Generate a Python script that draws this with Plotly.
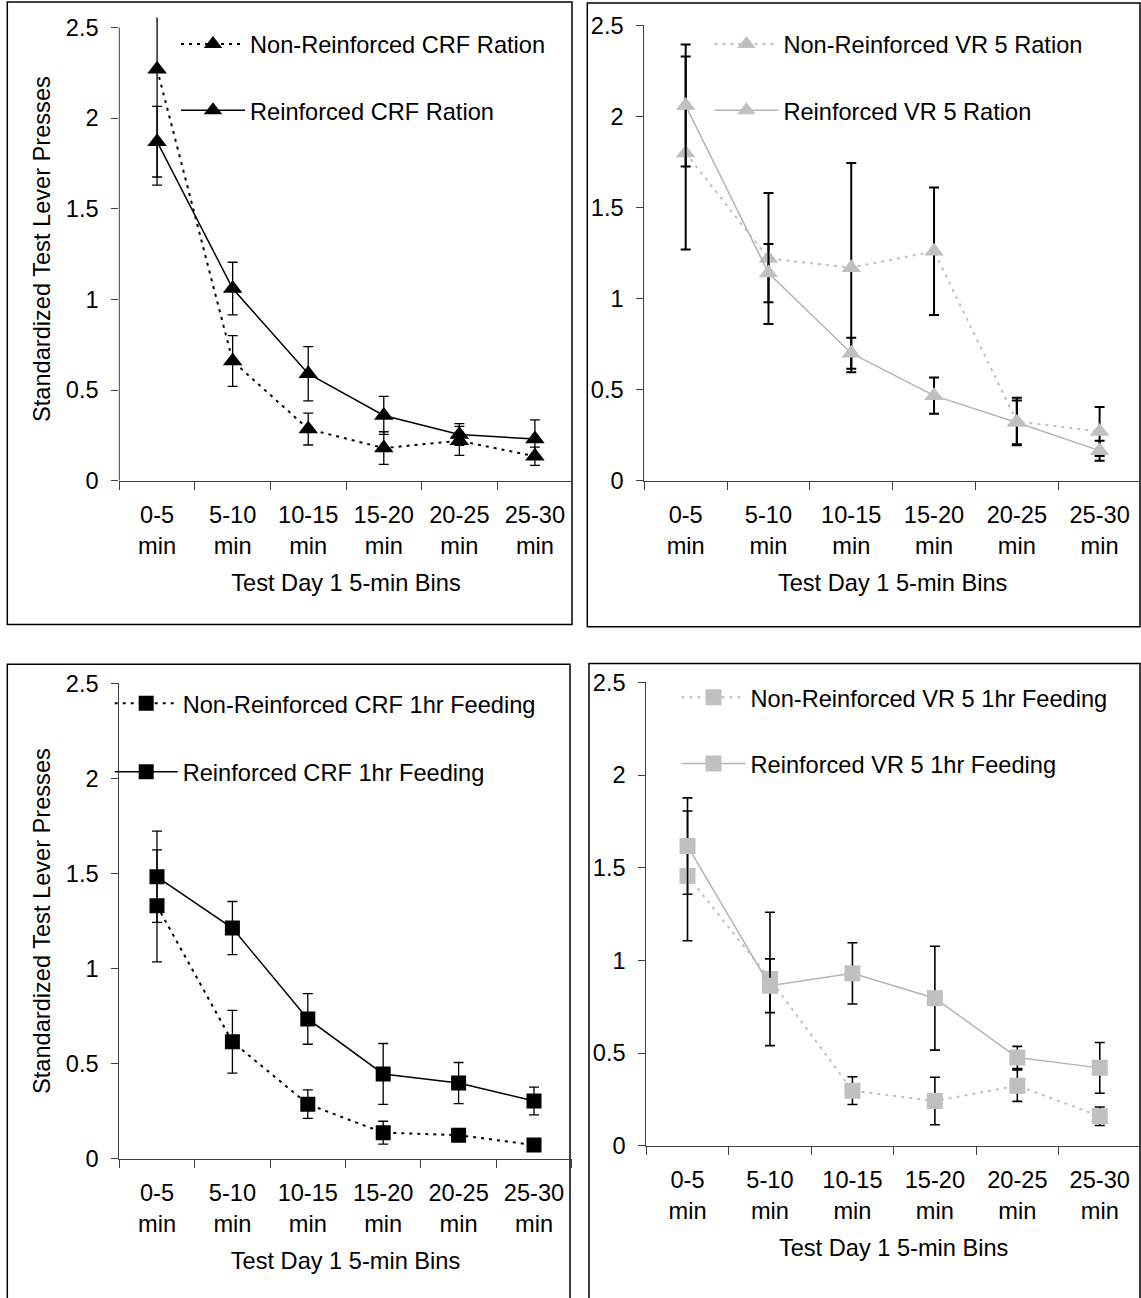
import plotly.graph_objects as go

# ---------------- data ----------------
bins = ["0-5<br>min", "5-10<br>min", "10-15<br>min", "15-20<br>min", "20-25<br>min", "25-30<br>min"]
y_ticks = [0, 0.5, 1, 1.5, 2, 2.5]

crf_ration_nonreinf = [2.27, 0.66, 0.285, 0.18, 0.22, 0.135]
crf_ration_nonreinf_err = [0.64, 0.14, 0.088, 0.09, 0.08, 0.05]
crf_ration_reinf = [1.87, 1.06, 0.59, 0.36, 0.255, 0.23]
crf_ration_reinf_err = [0.195, 0.145, 0.15, 0.105, 0.06, 0.105]

vr5_ration_nonreinf = [1.80, 1.22, 1.17, 1.26, 0.325, 0.27]
vr5_ration_nonreinf_err = [0.53, 0.36, 0.575, 0.35, 0.13, 0.135]
vr5_ration_reinf = [2.06, 1.14, 0.70, 0.467, 0.32, 0.165]
vr5_ration_reinf_err = [0.335, 0.16, 0.085, 0.10, 0.12, 0.055]

crf_feed_nonreinf = [1.33, 0.615, 0.287, 0.137, 0.124, 0.072]
crf_feed_nonreinf_err = [0.295, 0.165, 0.075, 0.06, 0.02, 0.01]
crf_feed_reinf = [1.483, 1.213, 0.735, 0.446, 0.398, 0.304]
crf_feed_reinf_err = [0.24, 0.14, 0.133, 0.16, 0.108, 0.073]

vr5_feed_nonreinf = [1.456, 0.90, 0.297, 0.241, 0.324, 0.159]
vr5_feed_nonreinf_err = [0.35, 0.36, 0.075, 0.128, 0.085, 0.05]
vr5_feed_reinf = [1.617, 0.863, 0.930, 0.796, 0.476, 0.42]
vr5_feed_reinf_err = [0.26, 0.145, 0.165, 0.28, 0.06, 0.137]

x_title = "Test Day 1 5-min Bins"
y_title = "Standardized Test Lever Presses"

# ---------------- styling / layout helpers ----------------
W, H = 1141, 1298
FONT = "Arial, 'Liberation Sans', Helvetica, sans-serif"
FS = 23.6
AXIS_COLOR = "#404040"
BLACK = "#000000"
GRAY_M = "#c0c0c0"
GRAY_L = "#b4b4b4"
DOT = "3px,5px"


def px_x(p):
    return p / W


def px_y(p):
    return 1 - p / H


fig = go.Figure()

panels = [
    dict(ax="", xpx=(119.3, 572.7), y0px=480.7, unit=181.3, ytop=2.555, ytitle=True,
         nr=crf_ration_nonreinf, nre=crf_ration_nonreinf_err, r=crf_ration_reinf, re=crf_ration_reinf_err,
         sym="triangle-up", msize=17, mcol=BLACK, lcol_nr=BLACK, lcol_r=BLACK, ethick=1.3,
         names=("Non-Reinforced CRF Ration", "Reinforced CRF Ration"),
         leg=((181, 44.2), (181, 110.5)), legw=64),
    dict(ax="2", xpx=(644.3, 1141.0), y0px=480.7, unit=182.1, ytop=2.5, ytitle=False,
         nr=vr5_ration_nonreinf, nre=vr5_ration_nonreinf_err, r=vr5_ration_reinf, re=vr5_ration_reinf_err,
         sym="triangle-up", msize=17, mcol=GRAY_M, lcol_nr=GRAY_M, lcol_r=GRAY_L, ethick=2,
         names=("Non-Reinforced VR 5 Ration", "Reinforced VR 5 Ration"),
         leg=((714.4, 44.2), (714.4, 110.5)), legw=64),
    dict(ax="3", xpx=(119.3, 571.7), y0px=1158.7, unit=190.1, ytop=2.5, ytitle=True,
         nr=crf_feed_nonreinf, nre=crf_feed_nonreinf_err, r=crf_feed_reinf, re=crf_feed_reinf_err,
         sym="square", msize=15, mcol=BLACK, lcol_nr=BLACK, lcol_r=BLACK, ethick=1.3,
         names=("Non-Reinforced CRF 1hr Feeding", "Reinforced CRF 1hr Feeding"),
         leg=((114.7, 703.5), (114.7, 771.9)), legw=63),
    dict(ax="4", xpx=(646.3, 1141.0), y0px=1145.7, unit=185.3, ytop=2.5, ytitle=False,
         nr=vr5_feed_nonreinf, nre=vr5_feed_nonreinf_err, r=vr5_feed_reinf, re=vr5_feed_reinf_err,
         sym="square", msize=16, mcol=GRAY_M, lcol_nr=GRAY_M, lcol_r=GRAY_L, ethick=1.6,
         names=("Non-Reinforced VR 5 1hr Feeding", "Reinforced VR 5 1hr Feeding"),
         leg=((681.5, 697.5), (681.5, 763.6)), legw=64),
]

leg_idx = 0
for p in panels:
    xa = "x" + p["ax"]
    ya = "y" + p["ax"]
    series = [
        (p["nr"], p["nre"], p["lcol_nr"], DOT, 2, p["names"][0], p["leg"][0]),
        (p["r"], p["re"], p["lcol_r"], "solid", 1.5, p["names"][1], p["leg"][1]),
    ]
    for vals, errs, lcol, dash, lw, name, (lx, ly) in series:
        leg_idx += 1
        legname = "legend" if leg_idx == 1 else f"legend{leg_idx}"
        fig.add_trace(go.Scatter(
            x=bins, y=vals, name=name, mode="lines+markers",
            xaxis=xa, yaxis=ya, legend=legname,
            line=dict(color=lcol, width=lw, dash=dash),
            marker=dict(symbol=p["sym"], size=p["msize"], color=p["mcol"], line=dict(width=0)),
            error_y=dict(type="data", array=errs, visible=True, color=BLACK,
                         thickness=p["ethick"], width=5),
            cliponaxis=True,
        ))
        fig.update_layout(**{legname: dict(
            x=px_x(lx - 5), y=px_y(ly), xanchor="left", yanchor="middle",
            itemwidth=p["legw"], bgcolor="rgba(0,0,0,0)", borderwidth=0,
            font=dict(family=FONT, size=FS, color=BLACK),
            itemclick=False, itemdoubleclick=False,
        )})

    ytop_px = p["y0px"] - p["ytop"] * p["unit"]
    xkey = "xaxis" + p["ax"]
    ykey = "yaxis" + p["ax"]
    fig.update_layout(**{
        xkey: dict(
            domain=[px_x(p["xpx"][0]), min(1.0, px_x(p["xpx"][1]))],
            anchor=ya, type="category", range=[-0.5, 5.5],
            tickson="boundaries", ticks="outside", ticklen=8, tickwidth=1, tickcolor=AXIS_COLOR,
            showline=True, linecolor=AXIS_COLOR, linewidth=1, showgrid=False, zeroline=False,
            tickfont=dict(family=FONT, size=FS, color=BLACK), ticklabelstandoff=13,
            title=dict(text=x_title, font=dict(family=FONT, size=FS, color=BLACK), standoff=16),
            fixedrange=True, automargin=False,
        ),
        ykey: dict(
            domain=[px_y(p["y0px"]), px_y(ytop_px)],
            anchor=xa, range=[0, p["ytop"]], tickvals=y_ticks,
            ticks="outside", ticklen=7, tickwidth=1, tickcolor=AXIS_COLOR,
            showline=(p["ytop"] == 2.5), linecolor=AXIS_COLOR, linewidth=1,
            showgrid=False, zeroline=False,
            tickfont=dict(family=FONT, size=FS, color=BLACK), ticklabelstandoff=8,
            title=dict(text=y_title if p["ytitle"] else "", font=dict(family=FONT, size=FS, color=BLACK), standoff=8),
            fixedrange=True, automargin=False,
        ),
    })
    if p["ytop"] != 2.5:
        # y-axis line stops at the top tick (2.5) while the plot area reaches slightly higher
        fig.add_shape(type="line", xref=xa + " domain", x0=0, x1=0, yref=ya, y0=0, y1=y_ticks[-1],
                      line=dict(color=AXIS_COLOR, width=1), layer="above")

# panel frames
frames = [(7.3, 2.0, 572.0, 624.5), (587.3, 3.0, 1140.0, 626.7),
          (7.3, 664.3, 570.0, 1310), (589.0, 663.6, 1140.0, 1310)]
for x0, y0, x1, y1 in frames:
    fig.add_shape(type="rect", xref="paper", yref="paper",
                  x0=px_x(x0), x1=px_x(x1), y0=px_y(y1), y1=px_y(y0),
                  line=dict(color=BLACK, width=1.5), fillcolor="rgba(0,0,0,0)", layer="below")

fig.update_layout(
    width=W, height=H, margin=dict(l=0, r=0, t=0, b=0, pad=0, autoexpand=False),
    paper_bgcolor="white", plot_bgcolor="white",
    font=dict(family=FONT, size=FS, color=BLACK),
    showlegend=True, hovermode=False,
)

fig.write_html("out.html", config={"displayModeBar": False},
               post_script="document.body.style.margin='0';")
